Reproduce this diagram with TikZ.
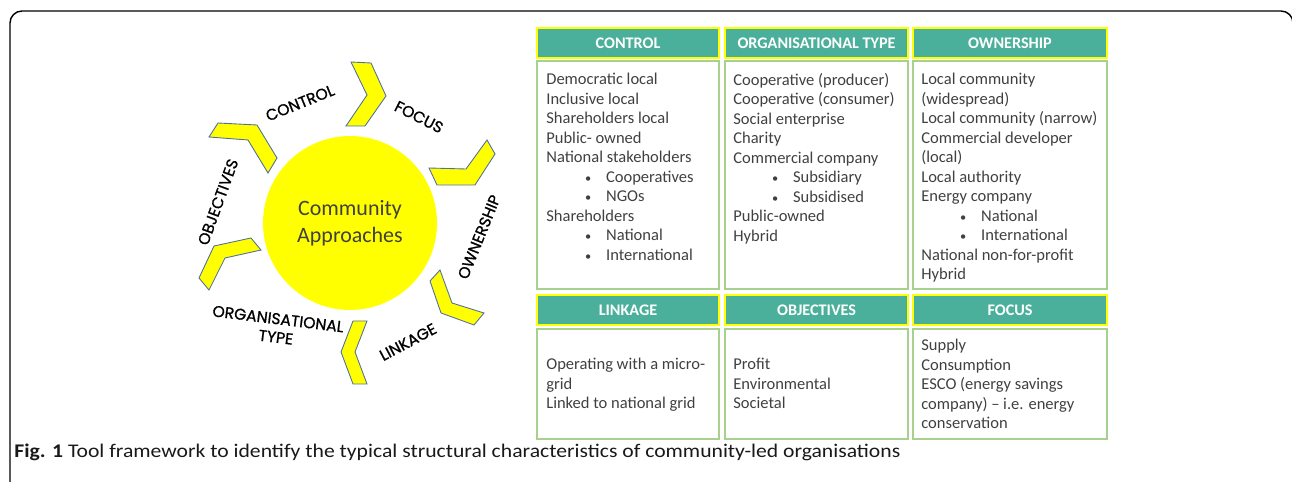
\documentclass[tikz,border=0pt]{standalone}
\usepackage{fontspec}
\setmainfont{Carlito}
\newfontfamily\lblfont[FakeBold=1]{Poppins}
\newfontfamily\capfont[FakeStretch=1.12]{Carlito}

\definecolor{hdrteal}{HTML}{4BB09B}
\definecolor{hdryellow}{HTML}{FFFF00}
\definecolor{boxgreen}{HTML}{A9D18E}
\definecolor{txtgray}{HTML}{404040}
\definecolor{chevblue}{HTML}{4F6FA0}
\definecolor{hubyellow}{HTML}{FFFF00}

\newcommand{\bul}[1]{\hspace*{22pt}\makebox[12pt][l]{\scalebox{0.75}{\textbullet}}#1}

\tikzset{
	hdr/.style={draw=hdryellow, line width=0.8pt, fill=hdrteal, text=white,
		font=\bfseries\fontsize{9.2}{11}\selectfont, minimum height=0.6cm, inner sep=0pt},
	bodybox/.style={draw=boxgreen, line width=0.8pt, inner sep=0pt},
	bodytext/.style={anchor=north west, inner sep=0pt, align=left, text=txtgray,
		font=\fontsize{9.4}{11.1}\selectfont},
	chev/.style={fill=hubyellow, draw=chevblue, line width=0.5pt},
	lbl/.style={font=\lblfont\fontsize{8.9}{10.5}\selectfont, inner sep=0pt, align=center},
}

\begin{document}
\begin{tikzpicture}[x=0.02cm, y=-0.02cm]
		\useasboundingbox (0,0) rectangle (1292,482);
		\clip (0,0) rectangle (1292,482);
		
		% frame
		\draw[line width=0.8pt, rounded corners=0.24cm] (10,520) -- (10,11) -- (1293,11) -- (1293,520);
		
		% hub and chevrons
		\node[circle, fill=hubyellow, minimum size=3.48cm, align=center, text=txtgray,
			font=\fontsize{12.5}{15.3}\selectfont] (hub) at (350,223) {Community\\Approaches};
		
		\draw[chev] (351,62) -- (371,63) -- (386,96) -- (365,126) -- (346,126) -- (367,95) -- cycle;
		\draw[chev] (429,168) -- (466,169) -- (487,140) -- (495,154) -- (475,185) -- (437,185) -- cycle;
		\draw[chev] (430,281) -- (440,270) -- (452,303) -- (484,313) -- (474,325) -- (441,313) -- cycle;
		\draw[chev] (353,321) -- (367,321) -- (355,352) -- (367,384) -- (353,384) -- (341,352) -- cycle;
		\draw[chev] (199,278) -- (214,246) -- (251,238) -- (261,250) -- (225,258) -- (209,290) -- cycle;
		\draw[chev] (218,123) -- (257,125) -- (277,158) -- (268,173) -- (248,140) -- (209,137) -- cycle;
		
		\node[lbl, rotate=22] (lcontrol) at (300,103) {CONTROL};
		\node[lbl, rotate=-27] (lfocus) at (419,117) {FOCUS};
		\node[lbl, rotate=68] (lowner) at (479,237) {OWNERSHIP};
		\node[lbl, rotate=28] (llink) at (408,342) {LINKAGE};
		\node[lbl, rotate=-7] (ltype) at (277,328) {ORGANISATIONAL\\TYPE};
		\node[lbl, rotate=70] (lobj) at (218,202) {OBJECTIVES};
		
		% first row
		\node[hdr, minimum width=3.64cm] (hcontrol) at (628,43) {CONTROL};
		\node[hdr, minimum width=3.66cm] (htype) at (816.5,43) {ORGANISATIONAL TYPE};
		\node[hdr, minimum width=3.88cm] (howner) at (1010,43) {OWNERSHIP};
		
		\node[bodybox, minimum width=3.64cm, minimum height=4.56cm] (bcontrol) at (628,175) {};
		\node[bodybox, minimum width=3.66cm, minimum height=4.56cm] (btype) at (816.5,175) {};
		\node[bodybox, minimum width=3.88cm, minimum height=4.56cm] (bowner) at (1010,175) {};
		
		\node[bodytext] (tcontrol) at (546,73) {Democratic local\\Inclusive local\\Shareholders local\\
			Public- owned\\National stakeholders\\\bul{Cooperatives}\\\bul{NGOs}\\Shareholders\\
			\bul{National}\\\bul{International}};
		\node[bodytext] (ttype) at (733,73) {Cooperative (producer)\\Cooperative (consumer)\\
			Social enterprise\\Charity\\Commercial company\\\bul{Subsidiary}\\\bul{Subsidised}\\
			Public-owned\\Hybrid};
		\node[bodytext] (towner) at (921,73) {Local community\\(widespread)\\Local community (narrow)\\
			Commercial developer\\(local)\\Local authority\\Energy company\\\bul{National}\\
			\bul{International}\\National non-for-profit\\Hybrid};
		
		% second row
		\node[hdr, minimum width=3.64cm] (hlink) at (628,310) {LINKAGE};
		\node[hdr, minimum width=3.66cm] (hobj) at (816.5,310) {OBJECTIVES};
		\node[hdr, minimum width=3.88cm] (hfocus) at (1010,310) {FOCUS};
		
		\node[bodybox, minimum width=3.64cm, minimum height=2.2cm] (blink) at (628,384) {};
		\node[bodybox, minimum width=3.66cm, minimum height=2.2cm] (bobj) at (816.5,384) {};
		\node[bodybox, minimum width=3.88cm, minimum height=2.2cm] (bfocus) at (1010,384) {};
		
		\node[bodytext] (tlink) at (546,358) {Operating with a micro-\\grid\\Linked to national grid};
		\node[bodytext] (tobj) at (733,358) {Profit\\Environmental\\Societal};
		\node[bodytext] (tfocus) at (921,339) {Supply\\Consumption\\ESCO (energy savings\\
			company) – i.e. energy\\conservation};
		
		% caption
		\node[anchor=base west, inner sep=0pt, text=black!90, font=\capfont\fontsize{11}{13}\selectfont] (caption)
			at (14,458) {\textbf{Fig. 1} Tool framework to identify the typical structural characteristics of community-led organisations};
	\end{tikzpicture}
\end{document}
